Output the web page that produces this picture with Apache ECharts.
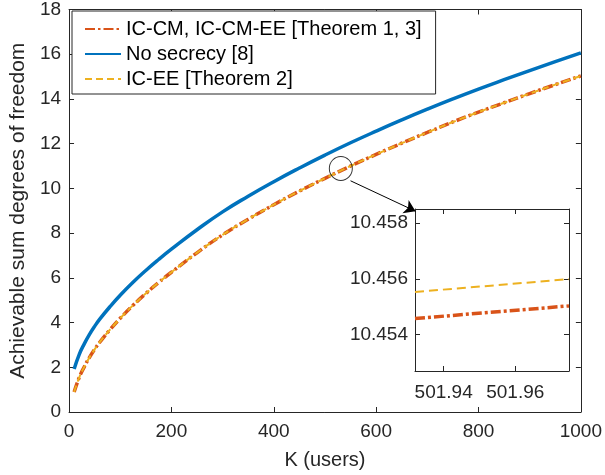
<!DOCTYPE html>
<html><head><meta charset="utf-8">
<script src="https://cdn.jsdelivr.net/npm/echarts@6/dist/echarts.min.js"></script>
<style>html,body{margin:0;padding:0;background:#fff}#c{width:605px;height:475px}</style>
</head><body><div id="c"></div>
<script>
// ---- data ----
var K = [10,20,30,40,50,60,80,100,125,150,175,200,250,300,350,400,450,500,550,600,650,700,750,800,850,900,950,1000];
var noSecrecy = [1.92,2.58,3.06,3.47,3.83,4.15,4.71,5.22,5.80,6.33,6.82,7.28,8.15,8.95,9.65,10.30,10.91,11.49,12.04,12.56,13.06,13.54,14.00,14.44,14.86,15.27,15.67,16.06];
var icCM = [0.89,1.55,2.03,2.44,2.80,3.12,3.68,4.19,4.77,5.30,5.79,6.25,7.12,7.92,8.62,9.27,9.88,10.45,11.00,11.52,12.02,12.50,12.97,13.41,13.83,14.24,14.64,15.03];
var icEE = [0.891,1.551,2.031,2.441,2.801,3.121,3.681,4.191,4.771,5.301,5.791,6.251,7.121,7.921,8.621,9.271,9.881,10.451,11.001,11.521,12.021,12.501,12.971,13.411,13.831,14.241,14.641,15.031];
var insetK = [501.932, 501.975];
var insetCM = [10.45458, 10.45503];
var insetEE = [10.45553, 10.45599];
var insetXTicks = [501.94, 501.96];
var insetYTicks = [10.454, 10.456, 10.458];
var circleCenter = [531, 10.89];
var arrowFrom = [550, 10.34];
var arrowTo = [676.9, 8.98];
var names = ['IC-CM, IC-CM-EE [Theorem 1, 3]', 'No secrecy [8]', 'IC-EE [Theorem 2]'];

function pairs(xs, ys){ return xs.map(function(x,i){ return [x, ys[i]]; }); }

var AX = '#262626';
var FONT = 'Liberation Sans, Arial, Helvetica, sans-serif';
var RED = '#D95319', BLUE = '#0072BD', YEL = '#EDB120';
var TICKFS = 19;

function mkAxis(o){
  var base = {
    type:'value',
    axisLine:{show:true, onZero:false, lineStyle:{color:AX, width:1}},
    axisTick:{show:true, inside:true, length:5, lineStyle:{color:AX}},
    axisLabel:{show:false, color:AX, fontSize:TICKFS, fontFamily:FONT},
    splitLine:{show:false}
  };
  for (var k in o) {
    if (typeof o[k]==='object' && base[k] && !Array.isArray(o[k])) { for (var j in o[k]) base[k][j]=o[k][j]; }
    else base[k]=o[k];
  }
  return base;
}

var chart = echarts.init(document.getElementById('c'), null, {renderer:'canvas'});
var option = {
  animation:false,
  backgroundColor:'#fff',
  textStyle:{fontFamily:FONT},
  grid:[
    {left:63, top:4, width:520, height:409, containLabel:false},
    {left:415, top:209, width:154, height:162, containLabel:false, show:true, backgroundColor:'#fff', borderWidth:0, z:5}
  ],
  xAxis:[
    mkAxis({gridIndex:0, position:'bottom', min:0, max:1000, interval:200,
      axisLabel:{show:true, margin:10, formatter:function(v){return String(v);}},
      name:'K (users)', nameLocation:'middle', nameGap:38, nameTextStyle:{color:AX, fontSize:20, fontFamily:FONT}}),
    mkAxis({gridIndex:0, position:'top', min:0, max:1000, interval:200}),
    mkAxis({gridIndex:1, position:'bottom', min:insetK[0], max:insetK[1],
      axisTick:{customValues:insetXTicks},
      axisLabel:{show:true, margin:12, customValues:insetXTicks, formatter:function(v){return v.toFixed(2);}}, z:6}),
    mkAxis({gridIndex:1, position:'top', min:insetK[0], max:insetK[1],
      axisTick:{customValues:insetXTicks}, axisLabel:{show:false, customValues:insetXTicks}, z:6})
  ],
  yAxis:[
    mkAxis({gridIndex:0, position:'left', min:0, max:18, interval:2,
      axisLabel:{show:true, margin:8},
      name:'Achievable sum degrees of freedom', nameLocation:'middle', nameGap:35, nameRotate:90,
      nameTextStyle:{color:AX, fontSize:21, fontFamily:FONT}}),
    mkAxis({gridIndex:0, position:'right', min:0, max:18, interval:2}),
    mkAxis({gridIndex:1, position:'left', min:10.4527, max:10.4585,
      axisTick:{customValues:insetYTicks},
      axisLabel:{show:true, margin:7, customValues:insetYTicks, formatter:function(v){return v.toFixed(3);}}, z:6}),
    mkAxis({gridIndex:1, position:'right', min:10.4527, max:10.4585,
      axisTick:{customValues:insetYTicks}, axisLabel:{show:false, customValues:insetYTicks}, z:6})
  ],
  legend:{
    show:true, orient:'vertical', left:72, top:11,
    data:names,
    backgroundColor:'#fff', borderColor:AX, borderWidth:1,
    padding:[8, 14, 5, 12], itemGap:5, itemWidth:36, itemHeight:2,
    itemStyle:{opacity:0},
    textStyle:{color:'#000', fontSize:20, fontFamily:FONT},
    z:10
  },
  series:[
    {name:names[0], type:'line', xAxisIndex:0, yAxisIndex:0, data:pairs(K, icCM), showSymbol:false, symbol:'none', smooth:true,
     lineStyle:{color:RED, width:3.5, type:[10,3,2.5,3]}, itemStyle:{color:RED}, z:3},
    {name:names[1], type:'line', xAxisIndex:0, yAxisIndex:0, data:pairs(K, noSecrecy), showSymbol:false, symbol:'none', smooth:true,
     lineStyle:{color:BLUE, width:3.5}, itemStyle:{color:BLUE}, z:3},
    {name:names[2], type:'line', xAxisIndex:0, yAxisIndex:0, data:pairs(K, icEE), showSymbol:false, symbol:'none', smooth:true,
     lineStyle:{color:YEL, width:2, type:[7,4]}, itemStyle:{color:YEL}, z:4},
    {type:'line', xAxisIndex:2, yAxisIndex:2, data:pairs(insetK, insetCM), showSymbol:false, symbol:'none',
     lineStyle:{color:RED, width:3.5, type:[10,3,3,3]}, z:7, silent:true},
    {type:'line', xAxisIndex:2, yAxisIndex:2, data:pairs(insetK, insetEE), showSymbol:false, symbol:'none',
     lineStyle:{color:YEL, width:2, type:[9,5]}, z:7, silent:true},
    {type:'scatter', xAxisIndex:0, yAxisIndex:0, data:[circleCenter], symbol:'circle', symbolSize:[23,24],
     itemStyle:{color:'rgba(0,0,0,0)', borderColor:'#000', borderWidth:1}, z:8, silent:true},
    {type:'lines', coordinateSystem:'cartesian2d', xAxisIndex:0, yAxisIndex:0,
     data:[{coords:[arrowFrom, arrowTo]}], symbol:['none','arrow'], symbolSize:[0,11],
     lineStyle:{color:'#000', width:1, opacity:1}, z:8, silent:true}
  ]
};
chart.setOption(option);
</script></body></html>
